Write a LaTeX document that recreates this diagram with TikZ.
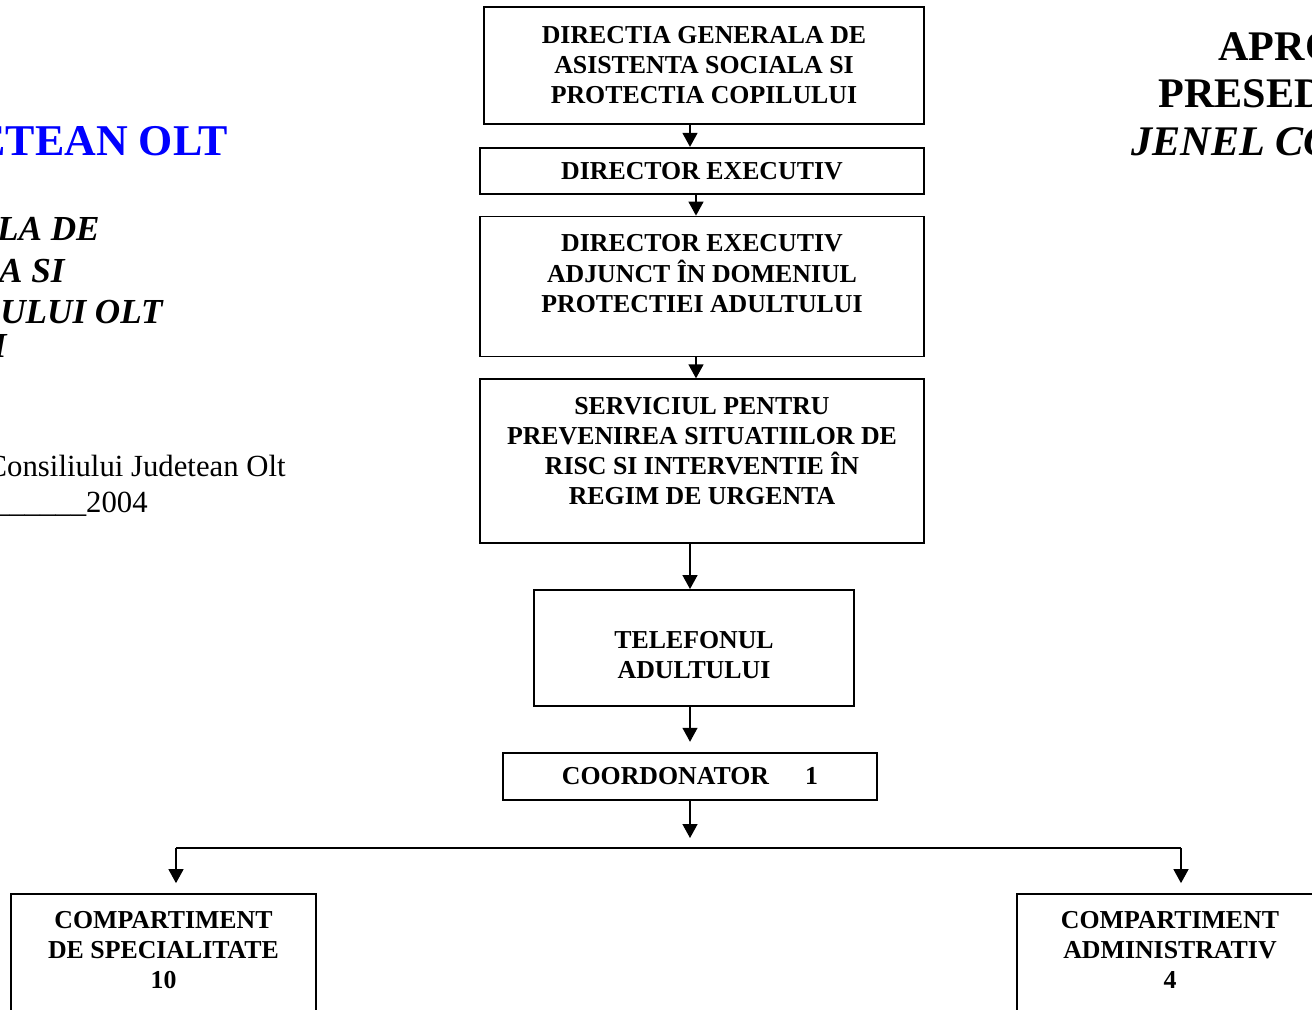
\documentclass[tikz,border=0pt]{standalone}
\usepackage{fontspec}
\setmainfont{Liberation Serif}
\usetikzlibrary{arrows.meta, positioning}

\begin{document}
\begin{tikzpicture}[
    x=0.02cm, y=0.02cm,
    node distance=0.42cm,
    box/.style={rectangle, draw, line width=1pt, inner sep=0pt, align=center, font=\fontsize{14.7}{17.1}\selectfont\bfseries},
    arrow/.style={-{Triangle[length=0.28cm, width=0.3cm]}, line width=0.8pt},
    head/.style={inner sep=0pt, font=\fontsize{24}{28}\selectfont\bfseries},
    headit/.style={inner sep=0pt, font=\fontsize{20}{24}\selectfont\bfseries\itshape},
    plain/.style={inner sep=0pt, font=\fontsize{17.5}{21}\selectfont}
]
    \useasboundingbox (0,0) rectangle (1312,-1009);
    \clip (0,0) rectangle (1312,-1009);

    % Header left
    \node[head, text=blue, font=\fontsize{25}{29}\selectfont\bfseries, anchor=base east] (cjo) at (228,-155) {ETEAN OLT};
    \node[headit, anchor=base east] (dg1) at (100,-240) {LA DE};
    \node[headit, anchor=base east] (dg2) at (65,-282) {A SI};
    \node[headit, anchor=base east] (dg3) at (163,-323) {ULUI OLT};
    \node[headit, anchor=base east] (dg4) at (7,-357) {I};
    \node[plain, anchor=base east] (hot1) at (286,-476) {Consiliului Judetean Olt};
    \node[plain, anchor=base east] (hot2) at (148,-512) {\_\_\_\_\_\_2004};

    % Header right
    \node[head, anchor=base west] (apr) at (1218,-60) {APRO};
    \node[head, anchor=base west] (pres) at (1158,-107) {PRESED};
    \node[head, font=\fontsize{24}{28}\selectfont\bfseries\itshape, anchor=base west] (nume) at (1131,-155) {JENEL CO};

    % Chain
    \node[box, minimum width=8.8cm, minimum height=2.34cm] (dgas) at (704,-65.5) {DIRECTIA GENERALA DE\\ASISTENTA SOCIALA SI\\PROTECTIA COPILULUI};
    \node[box, minimum width=8.88cm, minimum height=0.92cm, below=0.44cm of dgas, xshift=-0.04cm] (dir) {DIRECTOR EXECUTIV};
    \node[box, minimum width=8.88cm, minimum height=2.8cm, below=of dir] (adj) {DIRECTOR EXECUTIV\\ADJUNCT ÎN DOMENIUL\\PROTECTIEI ADULTULUI\\[-2.3pt]\mbox{}};
    \node[box, minimum width=8.88cm, minimum height=3.28cm, below=of adj] (serv) {SERVICIUL PENTRU\\PREVENIREA SITUATIILOR DE\\RISC SI INTERVENTIE ÎN\\REGIM DE URGENTA\\[-5.7pt]\mbox{}};
    \node[box, minimum width=6.4cm, minimum height=2.32cm, below=0.9cm of serv, xshift=-0.16cm] (tel) {\mbox{}\\[0.6pt]TELEFONUL\\ADULTULUI};
    \node[box, minimum width=7.48cm, minimum height=0.94cm, below=0.9cm of tel, xshift=-0.08cm] (coord) {COORDONATOR\hspace{1.4em}1};

    % Bottom row
    \node[box, minimum width=6.1cm, minimum height=3.2cm] (spec) at (163.5,-974) {COMPARTIMENT\\DE SPECIALITATE\\10\\[10pt]\mbox{}};
    \node[box, minimum width=6.12cm, minimum height=3.2cm] (adm) at (1170,-974) {COMPARTIMENT\\ADMINISTRATIV\\4\\[10pt]\mbox{}};

    \coordinate (midA) at (690,0);
    \coordinate (midB) at (696,0);
    \coordinate (busL) at (176,-848);
    \coordinate (busR) at (1181,-848);

    % Arrows
    \draw[arrow] (dgas.south -| midA) -- (dir.north -| midA);
    \draw[arrow] (dir.south -| midB) -- (adj.north -| midB);
    \draw[arrow] (adj.south -| midB) -- (serv.north -| midB);
    \draw[arrow] (serv.south -| midA) -- (tel.north -| midA);
    \draw[arrow, shorten >=0.2cm] (tel.south -| midA) -- (coord.north -| midA);
    \draw[arrow, shorten >=0.2cm] (coord.south -| midA) -- (busL -| midA);
    \draw[line width=0.8pt] (busL) -- (busR);
    \draw[arrow, shorten >=0.2cm] (busL) -- (busL |- spec.north);
    \draw[arrow, shorten >=0.2cm] (busR) -- (busR |- adm.north);

\end{tikzpicture}
\end{document}
